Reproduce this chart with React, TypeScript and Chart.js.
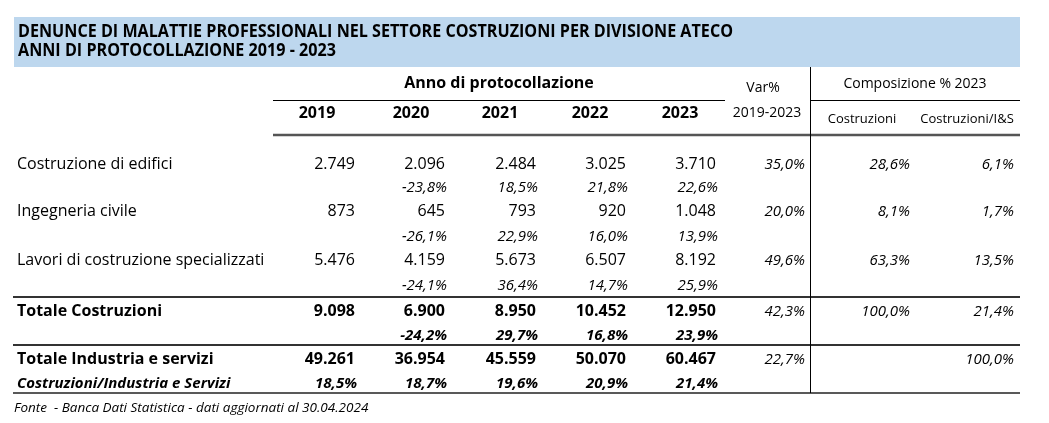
import React, { useEffect, useRef } from 'react';
import { Chart, registerables } from 'chart.js';

Chart.register(...registerables);

// ---------- DATA ----------
const titleLines = [
  'DENUNCE DI MALATTIE PROFESSIONALI NEL SETTORE COSTRUZIONI PER DIVISIONE ATECO',
  'ANNI DI PROTOCOLLAZIONE 2019 - 2023',
];
const groupHeader = 'Anno di protocollazione';
const years = ['2019', '2020', '2021', '2022', '2023'];
const varHeader = ['Var%', '2019-2023'];
const compHeader = 'Composizione % 2023';
const compSubHeaders = ['Costruzioni', 'Costruzioni/I&S'];

const categories = [
  'Costruzione di edifici',
  'Ingegneria civile',
  'Lavori di costruzione specializzati',
];
const edifici = [2749, 2096, 2484, 3025, 3710];
const ingegneria = [873, 645, 793, 920, 1048];
const lavori = [5476, 4159, 5673, 6507, 8192];
const edificiYoy = [-23.8, 18.5, 21.8, 22.6];
const ingegneriaYoy = [-26.1, 22.9, 16.0, 13.9];
const lavoriYoy = [-24.1, 36.4, 14.7, 25.9];

const totaleCostruzioniLabel = 'Totale Costruzioni';
const totaleCostruzioni = [9098, 6900, 8950, 10452, 12950];
const totaleCostruzioniYoy = [-24.2, 29.7, 16.8, 23.9];

const totaleIndustriaLabel = 'Totale Industria e servizi';
const totaleIndustria = [49261, 36954, 45559, 50070, 60467];
const ratioLabel = 'Costruzioni/Industria e Servizi';
const ratioCostrIS = [18.5, 18.7, 19.6, 20.9, 21.4];

// Var% 2019-2023: edifici, ingegneria, lavori, totale costruzioni, totale I&S
const var2019_2023 = [35.0, 20.0, 49.6, 42.3, 22.7];
// Composizione % 2023 - Costruzioni: edifici, ingegneria, lavori, totale costruzioni
const compCostruzioni = [28.6, 8.1, 63.3, 100.0];
// Composizione % 2023 - Costruzioni/I&S: edifici, ingegneria, lavori, totale costruzioni, totale I&S
const compIS = [6.1, 1.7, 13.5, 21.4, 100.0];

const sourceNote = 'Fonte  - Banca Dati Statistica - dati aggiornati al 30.04.2024';

// ---------- FORMAT ----------
const fmtInt = (n: number) => String(n).replace(/\B(?=(\d{3})+(?!\d))/g, '.');
const fmtPct = (v: number) => v.toFixed(1).replace('.', ',') + '%';

const FF = '"Open Sans", "Noto Sans", sans-serif';

const tablePlugin = {
  id: 'tableDraw',
  afterDraw(chart: any) {
    const ctx: CanvasRenderingContext2D = chart.ctx;
    const sx = chart.scales.x;
    const sy = chart.scales.y;
    const X = (v: number) => sx.getPixelForValue(v);
    const Y = (v: number) => sy.getPixelForValue(v);

    const txt = (s: string, x: number, y: number, align: CanvasTextAlign, font: string) => {
      ctx.font = font;
      ctx.textAlign = align;
      ctx.textBaseline = 'alphabetic';
      ctx.fillStyle = '#000';
      ctx.fillText(s, X(x), Y(y));
    };
    const hline = (x1: number, x2: number, y: number, w: number, color: string) => {
      ctx.beginPath();
      ctx.strokeStyle = color;
      ctx.lineWidth = w;
      ctx.moveTo(X(x1), Y(y));
      ctx.lineTo(X(x2), Y(y));
      ctx.stroke();
    };
    const vline = (x: number, y1: number, y2: number, w: number, color: string) => {
      ctx.beginPath();
      ctx.strokeStyle = color;
      ctx.lineWidth = w;
      ctx.moveTo(X(x), Y(y1));
      ctx.lineTo(X(x), Y(y2));
      ctx.stroke();
    };

    const R16 = `16px ${FF}`;
    const B16 = `bold 16px ${FF}`;
    const I15 = `italic 15px ${FF}`;
    const BI15 = `italic bold 15px ${FF}`;
    const R14 = `14px ${FF}`;
    const R13 = `13px ${FF}`;
    const I14 = `italic 13.5px ${FF}`;

    ctx.save();

    // Title band
    ctx.fillStyle = '#BDD7EE';
    ctx.fillRect(X(14), Y(17), X(1020) - X(14), Y(67) - Y(17));

    // Title (condensed bold)
    ctx.font = `bold 17.5px ${FF}`;
    const w1 = ctx.measureText(titleLines[0]).width;
    const ratio = (X(733) - X(18)) / w1;
    ctx.fillStyle = '#000';
    ctx.textAlign = 'left';
    ctx.textBaseline = 'alphabetic';
    [37, 56].forEach((by, i) => {
      ctx.save();
      ctx.translate(X(18), Y(by));
      ctx.scale(ratio, 1);
      ctx.fillText(titleLines[i], 0, 0);
      ctx.restore();
    });

    // Column layout
    const colRight = [355, 445, 536, 626, 716];
    const pctRight = [447, 538, 628, 718];
    const yearCenter = [317, 411, 500, 590, 680];
    const varRight = 805;
    const compRight = [910, 1014];
    const labelX = 17;

    // Header
    txt(groupHeader, 499, 88, 'center', B16);
    years.forEach((yr, i) => txt(yr, yearCenter[i], 118, 'center', B16));
    txt(varHeader[0], 763, 92, 'center', R14);
    txt(varHeader[1], 767, 116.5, 'center', R14);
    txt(compHeader, 915, 88, 'center', R14);
    txt(compSubHeaders[0], 862, 122.5, 'center', R13);
    txt(compSubHeaders[1], 967, 122.5, 'center', R13);

    // Detail rows
    const detail = [
      { values: edifici, yoy: edificiYoy },
      { values: ingegneria, yoy: ingegneriaYoy },
      { values: lavori, yoy: lavoriYoy },
    ];
    const valBase = [168.5, 216, 265];
    const pctBase = [192, 241, 289.5];
    detail.forEach((row, r) => {
      txt(categories[r], labelX, valBase[r], 'left', R16);
      row.values.forEach((v, i) => txt(fmtInt(v), colRight[i], valBase[r], 'right', R16));
      row.yoy.forEach((v, i) => txt(fmtPct(v), pctRight[i], pctBase[r], 'right', I15));
      txt(fmtPct(var2019_2023[r]), varRight, valBase[r], 'right', I15);
      txt(fmtPct(compCostruzioni[r]), compRight[0], valBase[r], 'right', I15);
      txt(fmtPct(compIS[r]), compRight[1], valBase[r], 'right', I15);
    });

    // Totale Costruzioni
    txt(totaleCostruzioniLabel, labelX, 316, 'left', B16);
    totaleCostruzioni.forEach((v, i) => txt(fmtInt(v), colRight[i], 316, 'right', B16));
    totaleCostruzioniYoy.forEach((v, i) => txt(fmtPct(v), pctRight[i], 339.5, 'right', BI15));
    txt(fmtPct(var2019_2023[3]), varRight, 316, 'right', I15);
    txt(fmtPct(compCostruzioni[3]), compRight[0], 316, 'right', I15);
    txt(fmtPct(compIS[3]), compRight[1], 316, 'right', I15);

    // Totale Industria e servizi
    txt(totaleIndustriaLabel, labelX, 363.5, 'left', B16);
    totaleIndustria.forEach((v, i) => txt(fmtInt(v), colRight[i], 363.5, 'right', B16));
    txt(fmtPct(var2019_2023[4]), varRight, 363.5, 'right', I15);
    txt(fmtPct(compIS[4]), compRight[1], 363.5, 'right', I15);

    // Ratio row
    txt(ratioLabel, labelX, 387.5, 'left', BI15);
    ratioCostrIS.forEach((v, i) => txt(fmtPct(v), colRight[i] + 2, 387.5, 'right', BI15));

    // Source
    txt(sourceNote, 14, 412, 'left', I14);

    // Lines
    hline(273, 725, 100.5, 1, '#000');
    hline(810, 1020, 100.5, 1, '#000');
    hline(273, 1020, 135, 2.5, '#555');
    hline(13, 1020, 297, 2, '#333');
    hline(13, 1020, 345, 2, '#333');
    hline(13, 1020, 393, 1.5, '#222');
    vline(810.5, 67, 393, 1, '#000');

    ctx.restore();
  },
};

export default function App() {
  const canvasRef = useRef<HTMLCanvasElement | null>(null);

  useEffect(() => {
    if (!canvasRef.current) return;
    const chart = new Chart(canvasRef.current, {
      type: 'scatter',
      data: { datasets: [] },
      options: {
        animation: false,
        responsive: false,
        devicePixelRatio: 1,
        layout: { padding: 0 },
        plugins: { legend: { display: false }, tooltip: { enabled: false } },
        scales: {
          x: { type: 'linear', min: 0, max: 1049, display: false },
          y: { type: 'linear', min: 0, max: 423, reverse: true, display: false },
        },
      },
      plugins: [tablePlugin],
    } as any);
    return () => chart.destroy();
  }, []);

  return (
    <div style={{ position: 'fixed', left: 0, top: 0, width: 1049, height: 423, background: '#fff' }}>
      <canvas ref={canvasRef} width={1049} height={423} style={{ width: 1049, height: 423, display: 'block' }} />
    </div>
  );
}
